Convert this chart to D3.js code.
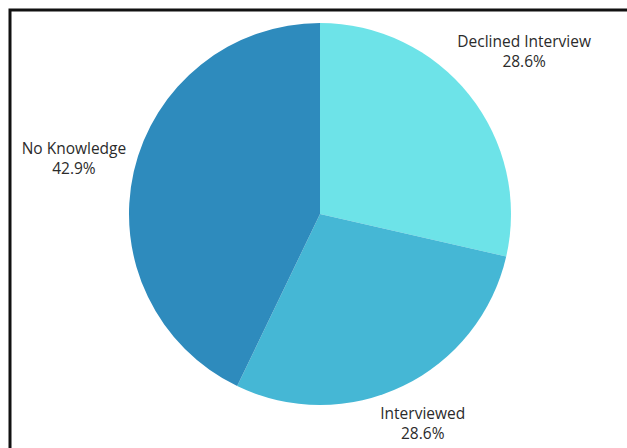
<!DOCTYPE html>
<html>
<head>
<meta charset="utf-8">
<script src="https://cdn.jsdelivr.net/npm/d3@7"></script>
<style>
  html, body { margin: 0; padding: 0; background: #ffffff; }
  svg { display: block; }
</style>
</head>
<body>
<svg id="chart" width="627" height="448"></svg>
<script>
// Interview outcomes (counts)
const categories = ["Declined Interview", "Interviewed", "No Knowledge"];
const counts = [2, 2, 3];
const percentLabels = ["28.6%", "28.6%", "42.9%"];
const sliceColors = ["#6de3e8", "#45b7d5", "#2e8bbd"];

const width = 627, height = 448;
const cx = 320, cy = 214, radius = 191;

const svg = d3.select("#chart");

// outer frame
svg.append("rect")
  .attr("x", 10).attr("y", 10)
  .attr("width", width + 20).attr("height", height + 20)
  .attr("fill", "none")
  .attr("stroke", "#111")
  .attr("stroke-width", 3);

const data = categories.map((c, i) => ({ name: c, value: counts[i], pct: percentLabels[i], color: sliceColors[i] }));

const pie = d3.pie().sort(null).value(d => d.value).startAngle(0).endAngle(2 * Math.PI);
const arcs = pie(data);

const arc = d3.arc().innerRadius(0).outerRadius(radius);

const g = svg.append("g").attr("transform", `translate(${cx},${cy})`);

g.selectAll("path.slice")
  .data(arcs)
  .join("path")
  .attr("class", "slice")
  .attr("d", arc)
  .attr("fill", d => d.data.color);

// labels placed outside each slice along its bisector
const labelArc = d3.arc().innerRadius(radius * 1.3).outerRadius(radius * 1.3);
const nudge = [[10, -9], [-5, -16], [-4, -2]];

const labels = g.selectAll("text.label")
  .data(arcs)
  .join("text")
  .attr("class", "label")
  .attr("text-anchor", "middle")
  .attr("font-family", "'Open Sans', sans-serif")
  .attr("font-size", 15.5)
  .attr("fill", "#2b2b2b")
  .attr("transform", (d, i) => {
    const [x, y] = labelArc.centroid(d);
    return `translate(${x + nudge[i][0]},${y + nudge[i][1]})`;
  });

labels.append("tspan").attr("x", 0).attr("dy", "-0.2em").text(d => d.data.name);
labels.append("tspan").attr("x", 0).attr("dy", "1.3em").text(d => d.data.pct);
</script>
</body>
</html>
